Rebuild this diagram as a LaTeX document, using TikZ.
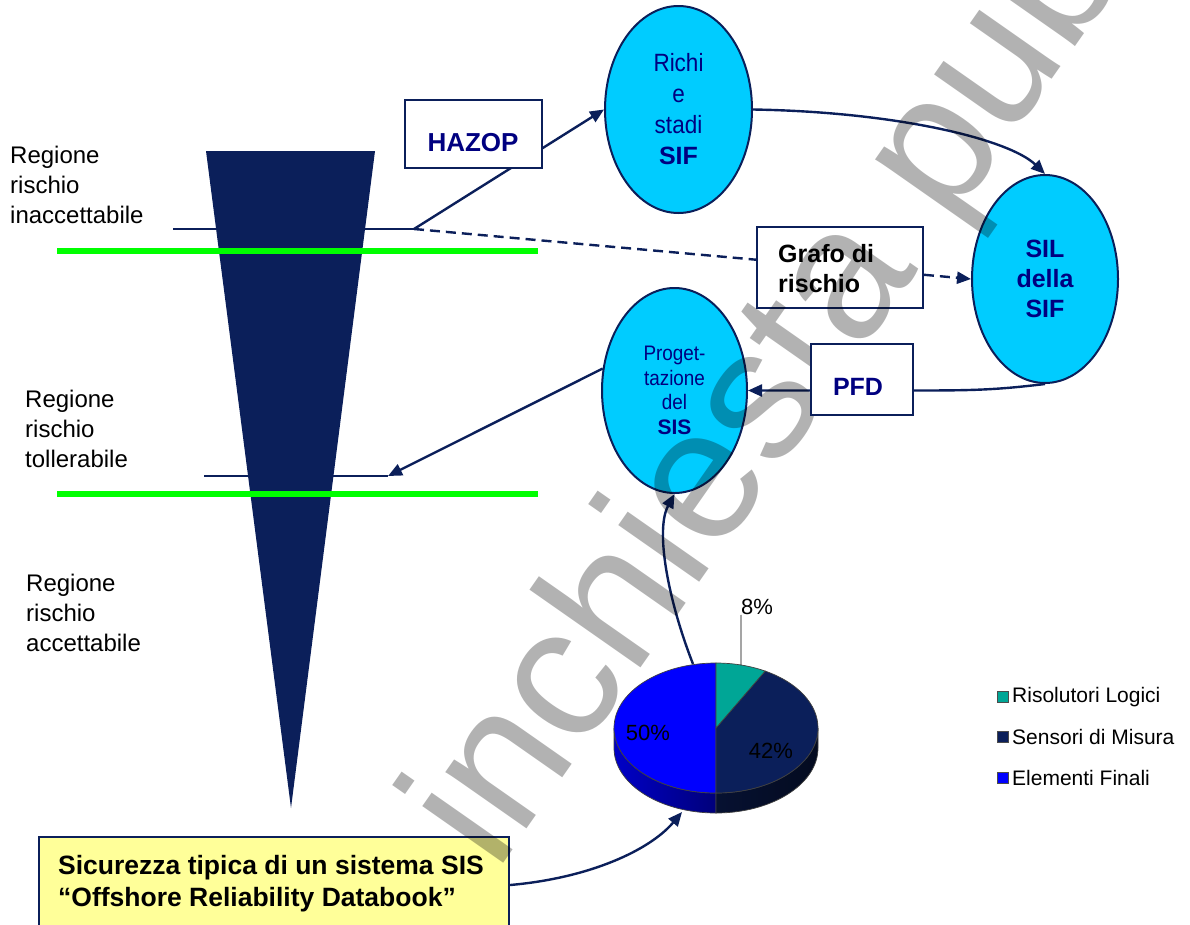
\documentclass[tikz,border=0pt]{standalone}
\usepackage{fontspec}
\setmainfont{Liberation Sans}
\newfontfamily\narrowsans[FakeStretch=0.9]{Liberation Sans}
\usetikzlibrary{arrows.meta,shapes.geometric}
\definecolor{navy}{RGB}{11,31,90}
\definecolor{textnavy}{RGB}{0,0,128}
\definecolor{skycyan}{RGB}{0,204,255}
\definecolor{limegreen}{RGB}{0,255,0}
\definecolor{paleyellow}{RGB}{255,255,153}
\definecolor{tealslice}{RGB}{0,166,150}
\definecolor{blueslice}{RGB}{0,0,255}
\newcommand{\fsz}[2]{\fontsize{#1pt}{#2pt}\selectfont}

\begin{document}
\begin{tikzpicture}[x=1pt,y=-1pt,
  stage/.style={ellipse, draw=navy, line width=2pt, fill=skycyan, inner sep=0pt,
                align=center, text=textnavy},
  tagbox/.style={rectangle, draw=navy, line width=2.2pt, fill=white, inner sep=0pt},
  conn/.style={draw=navy, line width=2.4pt},
  arrowed/.style={-{Triangle[length=14pt,width=12pt]}},
  riskline/.style={draw=navy, line width=1.5pt},
  greenband/.style={draw=limegreen, line width=6pt},
  regione/.style={anchor=west, inner sep=0pt, align=left, font=\fsz{24}{30}},
  pct/.style={inner sep=0pt, font=\fsz{22}{26}},
  slice/.style={draw=black!75, line width=0.7pt},
  legendkey/.style={rectangle, draw=black!70, line width=0.6pt, minimum size=11pt, inner sep=0pt},
  legendtxt/.style={anchor=west, inner sep=0pt, font=\fsz{21}{24}}
]
\useasboundingbox (0,0) rectangle (1190,924);
\clip (0,0) rectangle (1190,924);

% risk regions on the left
\node[regione] (r1) at (10,185) {Regione\\rischio\\inaccettabile};
\node[regione] (r2) at (25,429) {Regione\\rischio\\tollerabile};
\node[regione] (r3) at (26,613) {Regione\\rischio\\accettabile};

% level marks behind the funnel
\coordinate (l1) at (173,229);
\coordinate (hz) at (414,229);
\coordinate (l2) at (204,476);
\coordinate (t2) at (388,476);
\draw[riskline] (l1) -- (hz);
\draw[riskline] (l2) -- (t2);

% risk funnel
\fill[navy] (206,151) -- (375,151) -- (291,808) -- cycle;

% region borders
\coordinate (g1a) at (57,251);
\coordinate (g1b) at (538,251);
\coordinate (g2a) at (57,494);
\coordinate (g2b) at (538,494);
\draw[greenband] (g1a) -- (g1b);
\draw[greenband] (g2a) -- (g2b);

% process stages
\node[stage, minimum width=147pt, minimum height=207pt,
      font=\narrowsans\fsz{25}{31}] (richi) at (678.5,109.5)
      {Richi\\e\\stadi\\{\rmfamily\bfseries SIF}};
\node[stage, minimum width=146pt, minimum height=208pt,
      font=\bfseries\fsz{25}{30}] (sil) at (1045,279) {SIL\\della\\SIF};
\node[stage, minimum width=145pt, minimum height=205pt,
      font=\narrowsans\fsz{21}{24.5}] (prog) at (674.5,390.5)
      {Proget-\\tazione\\del\\{\rmfamily\bfseries SIS}};

% pie chart: typical SIS unavailability shares
\coordinate (pietop) at (693,664);
\coordinate (piebot) at (682,812);
\begin{scope}[shift={(716,728)}, yscale=-1]
  \path[slice, left color=blueslice!78!black, right color=blueslice!48!black]
    (-102,0) arc[start angle=180, end angle=270, x radius=102, y radius=65]
    -- (0,-85) arc[start angle=270, end angle=180, x radius=102, y radius=65] -- cycle;
  \path[slice, left color=navy!55!black, right color=navy!35!black]
    (0,-65) arc[start angle=270, end angle=360, x radius=102, y radius=65]
    -- (102,-20) arc[start angle=360, end angle=270, x radius=102, y radius=65] -- cycle;
  \filldraw[slice, fill=blueslice] (0,0) -- (0,65)
    arc[start angle=90, end angle=270, x radius=102, y radius=65] -- cycle;
  \filldraw[slice, fill=navy] (0,0) -- (0,-65)
    arc[start angle=-90, end angle=61.2, x radius=102, y radius=65] -- cycle;
  \filldraw[slice, fill=tealslice] (0,0) -- (61.2:102 and 65)
    arc[start angle=61.2, end angle=90, x radius=102, y radius=65] -- cycle;
\end{scope}
\node[pct] (p8) at (757,607) {8\%};
\node[pct] (p42) at (771,751) {42\%};
\node[pct] (p50) at (648,733) {50\%};
\coordinate (lead) at (741,665);
\draw[black, line width=0.8pt] (lead) -- (p8.south west);

% legend
\node[legendkey, fill=tealslice] (k1) at (1003,697) {};
\node[legendkey, fill=navy] (k2) at (1003,737) {};
\node[legendkey, fill=blueslice] (k3) at (1003,778) {};
\node[legendtxt] (e1) at (1012,697) {Risolutori Logici};
\node[legendtxt] (e2) at (1012,737) {Sensori di Misura};
\node[legendtxt] (e3) at (1012,778) {Elementi Finali};

% source box
\node[rectangle, draw=navy, line width=2.2pt, fill=paleyellow, minimum width=470pt,
      minimum height=96pt, inner sep=0pt] (ybox) at (274,885) {};
\node[anchor=west, inner sep=0pt, align=left, font=\bfseries\fsz{26.5}{32}] (ytxt) at (58,884)
  {Sicurezza tipica di un sistema SIS\\“Offshore Reliability Databook”};

% connectors
\coordinate (pfdr) at (913,390.5);
\draw[conn, arrowed] (hz) -- (richi.west);
\draw[conn, arrowed, dash pattern=on 10pt off 6pt] (hz) -- (sil.west);
\draw[conn, arrowed] (richi.east) .. controls (900,112) and (1010,140) .. (sil.north);
\draw[conn, arrowed] (prog.163) -- (t2);
\draw[conn, arrowed] (pietop) .. controls (668,600) and (655,530) .. (prog.south);
\draw[conn, arrowed] (ybox.east) .. controls (590,878) and (650,850) .. (piebot);
\draw[conn, arrowed] (sil.south) .. controls +(-50,6) and +(60,0) .. (pfdr) -- (prog.east);

% method boxes
\node[tagbox, minimum width=137pt, minimum height=68pt] (hazop) at (473.5,134) {};
\node[text=textnavy, font=\bfseries\fsz{26}{30}, inner sep=0pt] (hazoptxt) at (473,143) {HAZOP};
\node[tagbox, minimum width=166pt, minimum height=81pt] (grafo) at (840,267.5) {};
\node[font=\bfseries\fsz{25}{30}, align=left, anchor=west, inner sep=0pt] (grafotxt) at (778,269)
  {Grafo di\\rischio};

% document watermark
\node[font=\fsz{187}{187}, text=black, text opacity=0.3, rotate=55, anchor=base west,
      inner sep=0pt] (wm) at (496,874) {inchiesta pubblica};

% PFD box lies above the watermark
\node[tagbox, minimum width=102pt, minimum height=71pt] (pfd) at (862,379.5) {};
\node[text=textnavy, font=\bfseries\fsz{25}{30}, inner sep=0pt] (pfdtxt) at (858,387) {PFD};
\end{tikzpicture}
\end{document}
